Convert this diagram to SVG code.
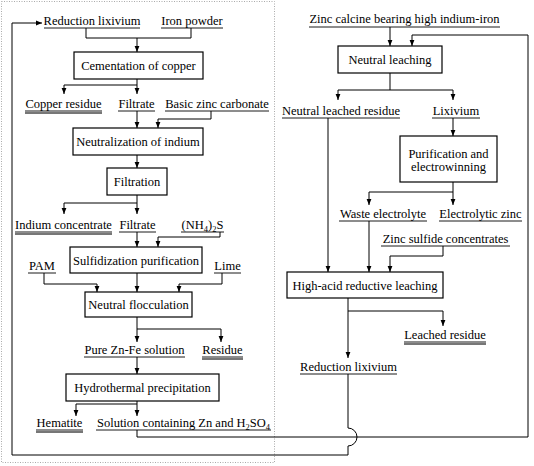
<svg xmlns="http://www.w3.org/2000/svg" width="534" height="466" viewBox="0 0 534 466">
<defs>
<marker id="ah" viewBox="0 0 6 6" refX="6" refY="3" markerWidth="6" markerHeight="6" markerUnits="userSpaceOnUse" orient="auto">
<path d="M0,0.6 L6,3 L0,5.4 Z" fill="#000"/>
</marker>
<style>
text{font-family:"Liberation Serif","Times New Roman",serif;font-size:12.5px;fill:#000;text-anchor:middle}
.box{fill:#fff;stroke:#000;stroke-width:1.2}
.c{fill:none;stroke:#000;stroke-width:1}
.a{marker-end:url(#ah)}
.u{stroke:#000;stroke-width:0.9}
.u2{stroke:#777;stroke-width:1.8}
.frame{fill:none;stroke:#aaa;stroke-width:1;stroke-dasharray:1,1.5}
.sub{font-size:8.5px}
</style>
</defs>
<rect width="534" height="466" fill="#fff"/>
<rect class="frame" x="1.5" y="1.5" width="273" height="461"/>

<g id="connectors">
<path class="c" d="M86,28 V38 H191 V28"/>
<path class="c a" d="M137,38 V52"/>
<path class="c" d="M137,79 V85"/>
<path class="c a" d="M137,85 V94"/>
<path class="c a" d="M137,85 H64 V94"/>
<path class="c a" d="M137,111 V128"/>
<path class="c a" d="M211,111 V119 H158 V128"/>
<path class="c a" d="M137,155 V168"/>
<path class="c" d="M137,195 V203"/>
<path class="c a" d="M137,203 V214"/>
<path class="c a" d="M137,203 H64 V214"/>
<path class="c a" d="M137,232 V247"/>
<path class="c a" d="M220,232 V237 H158 V247"/>
<path class="c a" d="M44,273 V284 H97 V292"/>
<path class="c a" d="M222,273 V284 H179 V292"/>
<path class="c a" d="M137,273 V292"/>
<path class="c" d="M137,317 V329"/>
<path class="c a" d="M137,329 H221 V342"/>
<path class="c a" d="M137,329 V342"/>
<path class="c a" d="M137,357 V374"/>
<path class="c" d="M137,401 V404"/>
<path class="c a" d="M137,404 H76 V416"/>
<path class="c a" d="M137,404 V416"/>
<path class="c a" d="M137,430 V437 H528 V35 H412 V46"/>
<path class="c a" d="M348,374 V428 A9,9 0 0 1 348,446 V455 H12 V23 H42"/>
<path class="c a" d="M390,27 V46"/>
<path class="c" d="M390,73 V90"/>
<path class="c a" d="M390,90 H338 V100"/>
<path class="c a" d="M390,90 H453 V100"/>
<path class="c a" d="M453,118 V136"/>
<path class="c a" d="M328,118 V272"/>
<path class="c" d="M453,182 V192"/>
<path class="c a" d="M453,192 H369 V205"/>
<path class="c a" d="M453,192 V205"/>
<path class="c a" d="M369,221 V272"/>
<path class="c a" d="M443,246 V256 H390 V272"/>
<path class="c" d="M348,298 V311"/>
<path class="c a" d="M348,311 H443 V326"/>
<path class="c a" d="M348,311 V358"/>
</g>

<g id="n-reduction-lixivium-top"><text x="92" y="25">Reduction lixivium</text><line class="u" x1="44" y1="28" x2="140" y2="28"/></g>
<g id="n-iron-powder"><text x="192" y="25">Iron powder</text><line class="u" x1="161" y1="28" x2="223" y2="28"/></g>
<g id="n-cementation"><rect class="box" x="74" y="52" width="129" height="27"/><text x="138.5" y="69.5">Cementation of copper</text></g>
<g id="n-copper-residue"><text x="63.5" y="108">Copper residue</text><line class="u" x1="25" y1="111" x2="102" y2="111"/><line class="u2" x1="25" y1="113" x2="102" y2="113"/></g>
<g id="n-filtrate-1"><text x="136.5" y="108">Filtrate</text><line class="u" x1="118" y1="111" x2="155" y2="111"/></g>
<g id="n-basic-zinc"><text x="217" y="108">Basic zinc carbonate</text><line class="u" x1="165" y1="111" x2="269" y2="111"/></g>
<g id="n-neutralization"><rect class="box" x="73" y="128" width="130" height="27"/><text x="138" y="146">Neutralization of indium</text></g>
<g id="n-filtration"><rect class="box" x="107" y="168" width="60" height="27"/><text x="137" y="185.5">Filtration</text></g>
<g id="n-indium-concentrate"><text x="63.5" y="229">Indium concentrate</text><line class="u" x1="15" y1="232" x2="112" y2="232"/><line class="u2" x1="15" y1="234" x2="112" y2="234"/></g>
<g id="n-filtrate-2"><text x="137.5" y="229">Filtrate</text><line class="u" x1="119" y1="232" x2="156" y2="232"/></g>
<g id="n-nh4s"><text x="202.5" y="229">(NH<tspan class="sub" dy="3">4</tspan><tspan dy="-3">)</tspan><tspan class="sub" dy="3">2</tspan><tspan dy="-3">S</tspan></text><line class="u" x1="181" y1="232" x2="224" y2="232"/></g>
<g id="n-sulfidization"><rect class="box" x="70" y="247" width="132" height="26"/><text x="136" y="264.5">Sulfidization purification</text></g>
<g id="n-pam"><text x="42" y="270">PAM</text><line class="u" x1="28" y1="273" x2="56" y2="273"/></g>
<g id="n-lime"><text x="227.5" y="270">Lime</text><line class="u" x1="214" y1="273" x2="241" y2="273"/></g>
<g id="n-neutral-flocculation"><rect class="box" x="85" y="292" width="107" height="25"/><text x="138.5" y="308.5">Neutral flocculation</text></g>
<g id="n-pure-znfe"><text x="134.5" y="354">Pure Zn-Fe solution</text><line class="u" x1="84" y1="357" x2="185" y2="357"/></g>
<g id="n-residue"><text x="222.5" y="354">Residue</text><line class="u" x1="202" y1="357" x2="243" y2="357"/><line class="u2" x1="202" y1="359" x2="243" y2="359"/></g>
<g id="n-hydrothermal"><rect class="box" x="66" y="374" width="153" height="27"/><text x="142.5" y="392">Hydrothermal precipitation</text></g>
<g id="n-hematite"><text x="59.5" y="427">Hematite</text><line class="u" x1="36" y1="430" x2="83" y2="430"/><line class="u2" x1="36" y1="432" x2="83" y2="432"/></g>
<g id="n-solution"><text x="183.5" y="427">Solution containing Zn and H<tspan class="sub" dy="3">2</tspan><tspan dy="-3">SO</tspan><tspan class="sub" dy="3">4</tspan></text><line class="u" x1="96" y1="430" x2="271" y2="430"/></g>

<g id="n-zinc-calcine"><text x="404.5" y="23">Zinc calcine bearing high indium-iron</text><line class="u" x1="309" y1="27" x2="500" y2="27"/></g>
<g id="n-neutral-leaching"><rect class="box" x="338" y="46" width="104" height="27"/><text x="390" y="64">Neutral leaching</text></g>
<g id="n-neutral-leached-residue"><text x="341" y="115">Neutral leached residue</text><line class="u" x1="282" y1="118" x2="400" y2="118"/></g>
<g id="n-lixivium"><text x="456" y="115">Lixivium</text><line class="u" x1="432" y1="118" x2="480" y2="118"/></g>
<g id="n-purification"><rect class="box" x="400" y="136" width="97" height="46"/><text x="448.5" y="158">Purification and</text><text x="448.5" y="171">electrowinning</text></g>
<g id="n-waste-electrolyte"><text x="383" y="218">Waste electrolyte</text><line class="u" x1="339" y1="221" x2="427" y2="221"/></g>
<g id="n-electrolytic-zinc"><text x="480.5" y="218">Electrolytic zinc</text><line class="u" x1="439" y1="221" x2="522" y2="221"/></g>
<g id="n-zinc-sulfide"><text x="445.5" y="243">Zinc sulfide concentrates</text><line class="u" x1="381" y1="246" x2="510" y2="246"/></g>
<g id="n-high-acid"><rect class="box" x="287" y="272" width="156" height="26"/><text x="365" y="289.5">High-acid reductive leaching</text></g>
<g id="n-leached-residue"><text x="445" y="339">Leached residue</text><line class="u" x1="404" y1="342" x2="486" y2="342"/><line class="u2" x1="404" y1="344" x2="486" y2="344"/></g>
<g id="n-reduction-lixivium-right"><text x="348.5" y="371">Reduction lixivium</text><line class="u" x1="300" y1="374" x2="397" y2="374"/></g>
</svg>
